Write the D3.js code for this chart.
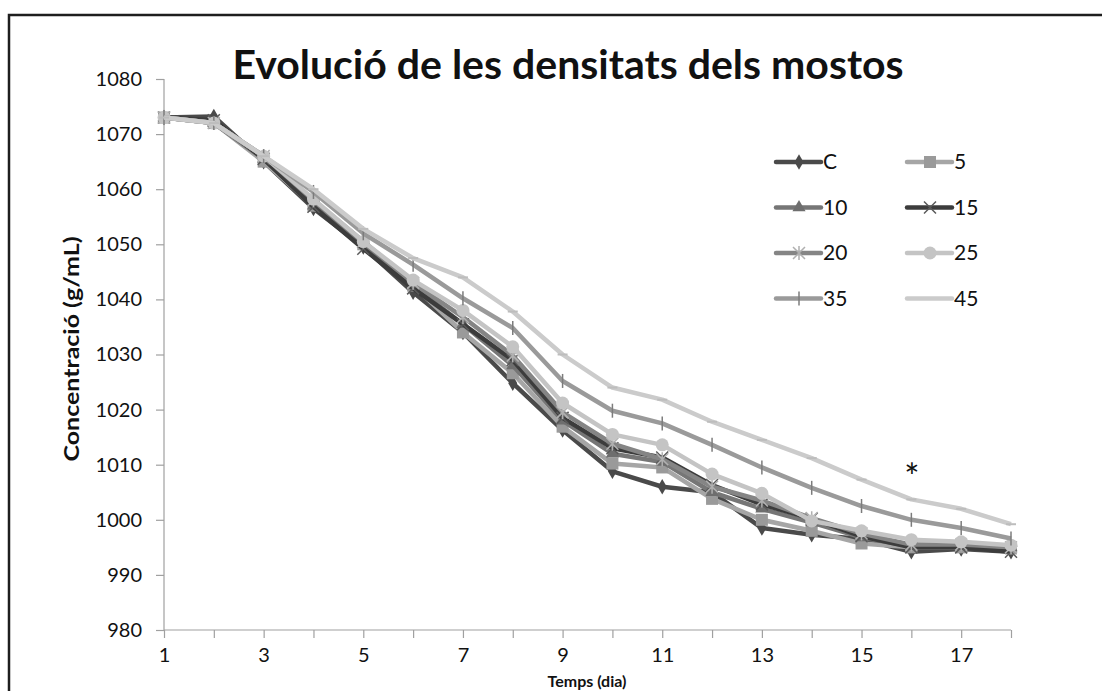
<!DOCTYPE html>
<html>
<head>
<meta charset="utf-8">
<script src="https://cdn.jsdelivr.net/npm/d3@7"></script>
<style>
  body { margin: 0; background: #fff; }
  svg { display: block; font-family: Lato, "Open Sans", sans-serif; }
</style>
</head>
<body>
<script>
const days = d3.range(1, 19);
const xTickLabels = [1, 3, 5, 7, 9, 11, 13, 15, 17];
const yTicks = [980, 990, 1000, 1010, 1020, 1030, 1040, 1050, 1060, 1070, 1080];

const seriesNames = ["C", "5", "10", "15", "20", "25", "35", "45"];
const valsC  = [1073, 1073.2, 1065, 1056.5, 1049.5, 1041.3, 1034, 1024.8, 1016.3, 1008.8, 1006, 1005, 998.5, 997.3, 996.5, 994.2, 994.7, 994.2];
const vals5  = [1073, 1072, 1065, 1057, 1050, 1042.5, 1034, 1026.6, 1016.9, 1010.2, 1009.5, 1003.8, 1000, 998, 995.7, 995, 995, 994.8];
const vals10 = [1073, 1072, 1065.5, 1057, 1050, 1042.5, 1035.5, 1028, 1018, 1012, 1010.5, 1005, 1002, 999.5, 996.8, 995.2, 995.2, 995];
const vals15 = [1073, 1072.5, 1065.5, 1056.8, 1049.2, 1042, 1035.5, 1029, 1018.5, 1013, 1011.3, 1006.3, 1002.8, 1000.2, 997, 995, 995, 994.2];
const vals20 = [1073, 1072, 1066, 1058, 1050.5, 1043, 1036.8, 1029.8, 1019.5, 1013.8, 1011, 1006, 1003.5, 1000.3, 997.5, 995.5, 995.5, 995];
const vals25 = [1073, 1072, 1066, 1058.2, 1050.5, 1043.5, 1038, 1031.4, 1021.2, 1015.5, 1013.6, 1008.3, 1004.8, 999.8, 998, 996.4, 996, 995.4];
const vals35 = [1073, 1072, 1066, 1059.5, 1052, 1046.3, 1040.2, 1034.8, 1025.2, 1019.8, 1017.5, 1013.6, 1009.5, 1005.8, 1002.5, 1000, 998.5, 996.6];
const vals45 = [1073, 1072, 1066, 1060, 1052.8, 1047.5, 1044, 1037.8, 1030, 1024, 1021.8, 1017.8, 1014.5, 1011.2, 1007.3, 1003.7, 1002, 999.2];

const allVals = [valsC, vals5, vals10, vals15, vals20, vals25, vals35, vals45];
const lineColors   = ["#4a4a4a", "#a6a6a6", "#767676", "#3c3c3c", "#858585", "#c4c4c4", "#9a9a9a", "#cbcbcb"];
const markerColors = ["#4a4a4a", "#9a9a9a", "#6e6e6e", "#5a5a5a", "#b0b0b0", "#c4c4c4", "#7c7c7c", "#bdbdbd"];
const markerTypes  = ["diamond", "square", "triangle", "x", "star", "circle", "plus", "dash"];

const width = 1102, height = 691;
const svg = d3.select("body").append("svg")
    .attr("width", width)
    .attr("height", height);

// marc exterior
svg.append("rect")
    .attr("x", 9).attr("y", 15)
    .attr("width", 1120).attr("height", 700)
    .attr("fill", "none")
    .attr("stroke", "#1e1e1e")
    .attr("stroke-width", 2.5);

const x = d3.scaleLinear().domain([1, 18]).range([164, 1011]);
const y = d3.scaleLinear().domain([980, 1080]).range([630, 79]);

// eixos
const yAxis = svg.append("g")
    .attr("transform", "translate(164,0)")
    .call(d3.axisLeft(y).tickValues(yTicks).tickSize(8).tickPadding(14).tickFormat(d3.format("d")));
const xAxis = svg.append("g")
    .attr("transform", "translate(0,630)")
    .call(d3.axisBottom(x).tickValues(days).tickSize(8).tickPadding(10)
        .tickFormat(d => xTickLabels.includes(d) ? d : ""));

[yAxis, xAxis].forEach(g => {
    g.select(".domain").attr("stroke", "#a0a0a0").attr("stroke-width", 1.2);
    g.selectAll(".tick line").attr("stroke", "#a0a0a0").attr("stroke-width", 1.2);
    g.selectAll(".tick text")
        .attr("fill", "#111")
        .style("font-size", "20px")
        .style("font-family", "Lato, 'Open Sans', sans-serif");
});
xAxis.select(".domain").attr("d", "M164,0H1011");
yAxis.select(".domain").attr("d", "M0,79V630");

// títols
svg.append("text")
    .attr("x", 568).attr("y", 79)
    .attr("text-anchor", "middle")
    .style("font-size", "41px")
    .style("font-weight", "bold")
    .attr("fill", "#111")
    .text("Evolució de les densitats dels mostos");

svg.append("text")
    .attr("transform", "translate(79,349) rotate(-90)")
    .attr("text-anchor", "middle")
    .style("font-size", "20px")
    .style("font-weight", "bold")
    .attr("textLength", 225)
    .attr("lengthAdjust", "spacingAndGlyphs")
    .attr("fill", "#111")
    .text("Concentració (g/mL)");

svg.append("text")
    .attr("x", 587).attr("y", 687)
    .attr("text-anchor", "middle")
    .style("font-size", "16px")
    .style("font-weight", "bold")
    .attr("fill", "#111")
    .text("Temps (dia)");

function drawMarker(g, type, color, cx, cy) {
    if (type === "diamond") {
        g.append("path").attr("d", d3.symbol(d3.symbolDiamond, 70)()).attr("transform", `translate(${cx},${cy})`).attr("fill", color);
    } else if (type === "square") {
        g.append("rect").attr("x", cx - 6).attr("y", cy - 6).attr("width", 12).attr("height", 12).attr("fill", color);
    } else if (type === "triangle") {
        g.append("path").attr("d", d3.symbol(d3.symbolTriangle, 75)()).attr("transform", `translate(${cx},${cy})`).attr("fill", color);
    } else if (type === "x") {
        g.append("path").attr("d", `M${cx - 6},${cy - 6}L${cx + 6},${cy + 6}M${cx - 6},${cy + 6}L${cx + 6},${cy - 6}`)
            .attr("stroke", color).attr("stroke-width", 1.5);
    } else if (type === "star") {
        g.append("path").attr("d", `M${cx - 6},${cy - 6}L${cx + 6},${cy + 6}M${cx - 6},${cy + 6}L${cx + 6},${cy - 6}M${cx},${cy - 7}V${cy + 7}`)
            .attr("stroke", color).attr("stroke-width", 1.5);
    } else if (type === "circle") {
        g.append("circle").attr("cx", cx).attr("cy", cy).attr("r", 6.5).attr("fill", color);
    } else if (type === "plus") {
        g.append("path").attr("d", `M${cx},${cy - 7}V${cy + 7}`)
            .attr("stroke", color).attr("stroke-width", 1.5);
    } else if (type === "dash") {
        g.append("path").attr("d", `M${cx - 5},${cy}H${cx + 5}`)
            .attr("stroke", color).attr("stroke-width", 2);
    }
}

const line = d3.line().x((d, i) => x(days[i])).y(d => y(d));

allVals.forEach((vals, k) => {
    const g = svg.append("g").attr("class", "series");
    g.append("path")
        .datum(vals)
        .attr("d", line)
        .attr("fill", "none")
        .attr("stroke", lineColors[k])
        .attr("stroke-width", 4.5)
        .attr("stroke-linejoin", "round");
    vals.forEach((v, i) => drawMarker(g, markerTypes[k], markerColors[k], x(days[i]), y(v)));
});

// asterisc de significació
svg.append("text")
    .attr("x", 912).attr("y", 490)
    .attr("text-anchor", "middle")
    .style("font-size", "36px")
    .attr("fill", "#111")
    .text("*");

// llegenda
const legend = svg.append("g");
seriesNames.forEach((name, k) => {
    const col = k % 2, row = Math.floor(k / 2);
    const lx = 776 + col * 131, ly = 162 + row * 45.5;
    const lg = legend.append("g");
    lg.append("line")
        .attr("x1", lx).attr("x2", lx + 45)
        .attr("y1", ly).attr("y2", ly)
        .attr("stroke", lineColors[k])
        .attr("stroke-width", 4.5)
        .attr("stroke-linecap", "round");
    if (markerTypes[k] !== "dash") drawMarker(lg, markerTypes[k], markerColors[k], lx + 23, ly);
    lg.append("text")
        .attr("x", lx + 47).attr("y", ly + 7)
        .style("font-size", "21px")
        .attr("fill", "#111")
        .text(name);
});
</script>
</body>
</html>
